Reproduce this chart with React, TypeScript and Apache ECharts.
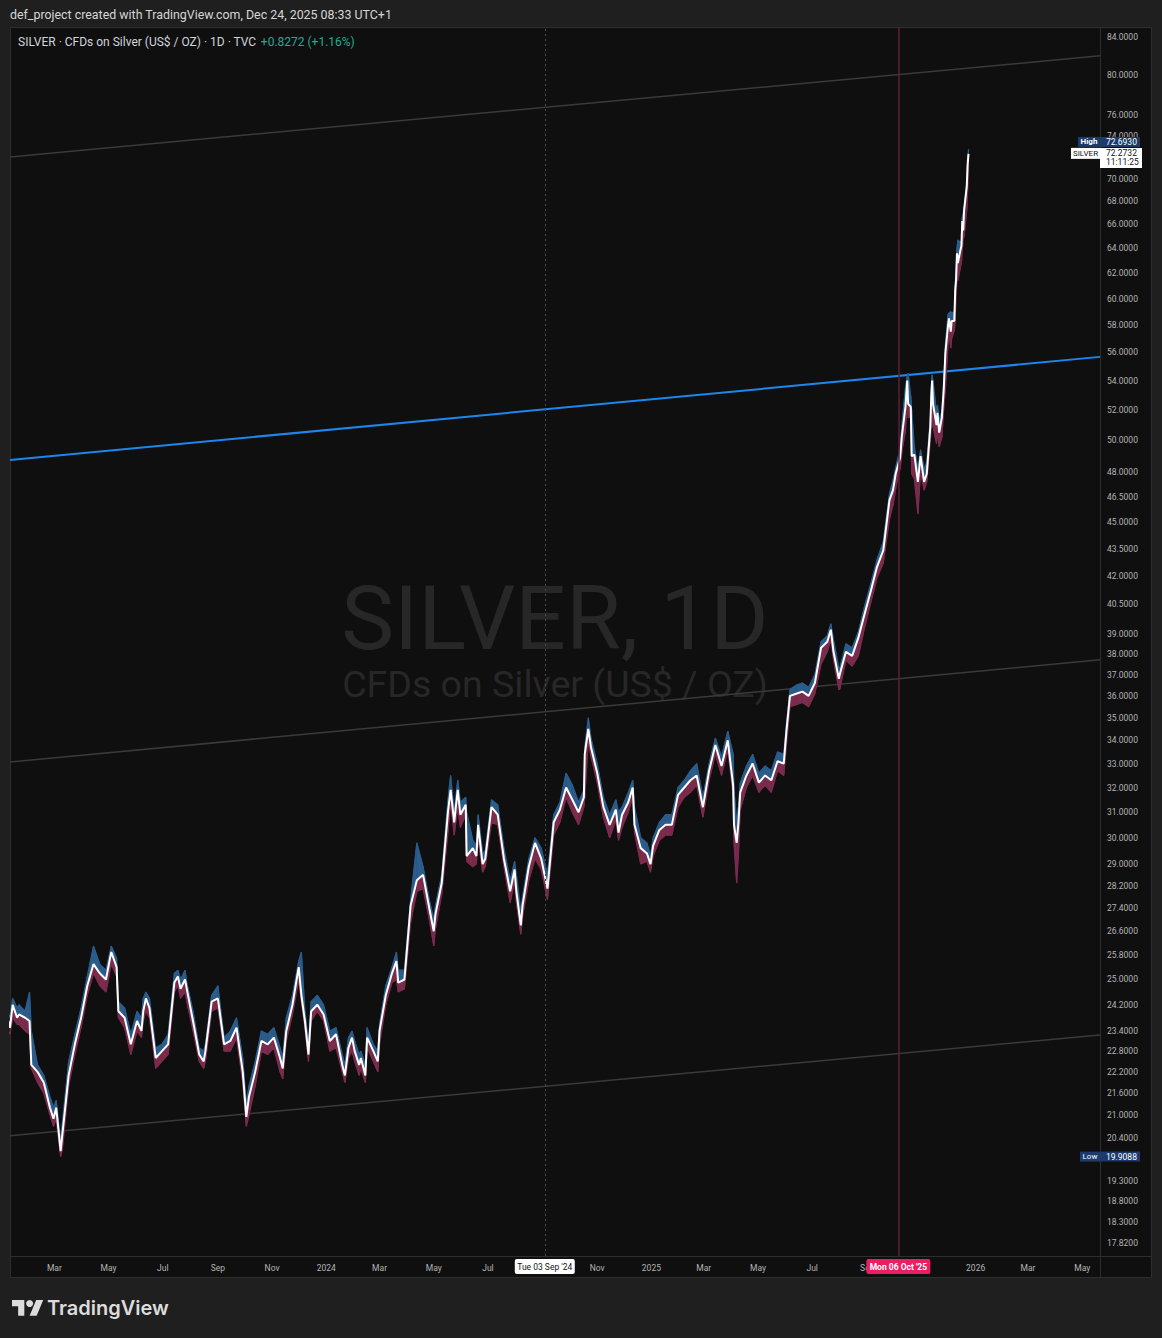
import React, { useEffect, useRef } from 'react';
import * as echarts from 'echarts';

const FONT = 'Roboto, "Liberation Sans", "DejaVu Sans", sans-serif';

// ---------------- DATA ----------------
// Weekly (mostly Friday) readings of the HLC chart
const dates = [
  '2023-01-06','2023-01-10','2023-01-13','2023-01-20','2023-01-27','2023-02-01','2023-02-03','2023-02-10','2023-02-17','2023-02-24',
  '2023-03-03','2023-03-08','2023-03-10','2023-03-17','2023-03-24','2023-03-31','2023-04-07','2023-04-14','2023-04-21','2023-04-28',
  '2023-05-04','2023-05-10','2023-05-12','2023-05-19','2023-05-26','2023-06-02','2023-06-09','2023-06-16','2023-06-23','2023-06-30',
  '2023-07-07','2023-07-14','2023-07-21','2023-07-28','2023-08-04','2023-08-11','2023-08-18','2023-08-25','2023-09-01','2023-09-08',
  '2023-09-15','2023-09-22','2023-09-29','2023-10-03','2023-10-06','2023-10-13','2023-10-20','2023-10-27','2023-11-03','2023-11-10',
  '2023-11-17','2023-11-24','2023-12-01','2023-12-04','2023-12-08','2023-12-12','2023-12-15','2023-12-22','2023-12-29',
  '2024-01-05','2024-01-12','2024-01-19','2024-01-22','2024-01-26','2024-02-02','2024-02-09','2024-02-14','2024-02-16','2024-02-23',
  '2024-02-28','2024-03-01','2024-03-08','2024-03-15','2024-03-20','2024-03-22','2024-03-29','2024-04-05','2024-04-12','2024-04-19',
  '2024-04-26','2024-05-03','2024-05-10','2024-05-17','2024-05-20','2024-05-24','2024-05-31','2024-06-06','2024-06-07','2024-06-14',
  '2024-06-20','2024-06-25','2024-06-28','2024-07-05','2024-07-12','2024-07-19','2024-07-26','2024-07-31','2024-08-02','2024-08-07',
  '2024-08-09','2024-08-16','2024-08-23','2024-08-30','2024-09-06','2024-09-13','2024-09-20','2024-09-27','2024-10-04','2024-10-11',
  '2024-10-17','2024-10-18','2024-10-22','2024-10-25','2024-11-01','2024-11-08','2024-11-15','2024-11-22','2024-11-29','2024-12-06',
  '2024-12-11','2024-12-13','2024-12-20','2024-12-27','2024-12-31',
  '2025-01-03','2025-01-10','2025-01-17','2025-01-24','2025-01-31','2025-02-07','2025-02-14','2025-02-21','2025-02-28','2025-03-07',
  '2025-03-14','2025-03-21','2025-03-28','2025-04-03','2025-04-04','2025-04-07','2025-04-09','2025-04-11','2025-04-18','2025-04-25',
  '2025-05-02','2025-05-09','2025-05-16','2025-05-23','2025-05-30','2025-06-02','2025-06-06','2025-06-13','2025-06-20','2025-06-27',
  '2025-07-04','2025-07-11','2025-07-18','2025-07-22','2025-07-25','2025-07-31','2025-08-01','2025-08-08','2025-08-15','2025-08-22',
  '2025-08-29','2025-09-05','2025-09-12','2025-09-19','2025-09-26','2025-09-30','2025-10-03','2025-10-06','2025-10-08','2025-10-10',
  '2025-10-14','2025-10-16','2025-10-17','2025-10-20','2025-10-21','2025-10-24','2025-10-28','2025-10-31','2025-11-04','2025-11-07',
  '2025-11-11','2025-11-12','2025-11-13','2025-11-14','2025-11-18','2025-11-19','2025-11-21','2025-11-24','2025-11-26','2025-11-28',
  '2025-12-01','2025-12-02','2025-12-04','2025-12-05','2025-12-08','2025-12-09','2025-12-10','2025-12-11','2025-12-12','2025-12-15',
  '2025-12-16','2025-12-17','2025-12-18','2025-12-19','2025-12-22','2025-12-23','2025-12-24',
];

const closes = [
  23.9,23.5,24.2,23.9,23.8,23.7,22.4,22.2,21.9,21.2,
  21.2,20.05,20.5,22.1,23.0,23.8,24.8,25.5,25.2,25.0,
  25.9,25.4,24.0,23.8,23.0,23.7,24.0,24.1,22.6,22.8,
  23.0,24.9,24.7,24.7,23.7,22.7,22.8,24.3,24.4,23.0,
  23.1,23.5,22.2,20.95,21.5,22.2,23.1,23.0,23.2,22.6,
  23.4,24.2,25.4,24.5,23.7,22.7,24.0,24.2,23.9,
  23.1,23.3,22.4,22.1,22.9,22.8,22.6,22.1,23.2,22.8,
  22.5,23.4,24.5,25.2,25.6,24.9,25.0,27.5,28.4,28.6,
  27.4,27.2,28.3,31.0,31.9,30.6,30.9,31.3,29.3,29.6,
  30.5,29.0,29.2,31.2,30.9,29.2,28.0,28.8,28.0,26.8,
  27.5,28.9,29.8,29.2,28.1,30.6,31.1,32.0,31.5,31.0,
  31.6,33.4,34.5,33.7,32.6,31.2,30.5,31.1,30.9,31.4,
  32.0,30.5,29.6,29.4,29.0,
  29.7,30.3,30.5,30.5,31.7,32.0,32.3,32.5,31.2,32.7,
  33.8,32.9,34.0,32.1,30.5,29.8,30.6,31.8,32.5,33.0,
  32.2,32.5,32.3,33.1,33.0,34.4,36.0,36.1,36.2,36.0,
  36.6,38.3,38.6,39.2,38.1,36.8,37.0,38.1,37.9,38.8,
  40.0,41.2,42.5,43.4,46.3,46.9,47.9,48.5,48.9,50.3,
  52.2,54.0,52.4,52.2,49.0,49.1,47.4,49.0,47.4,47.9,
  50.9,52.8,54.0,52.4,51.0,51.8,50.5,51.5,53.3,56.0,
  58.0,58.5,57.5,58.3,58.3,60.6,61.5,63.6,62.8,63.9,
  64.2,66.3,65.5,67.2,69.3,71.3,72.2732,
];

const highs = [
  24.1,23.8,24.4,24.2,24.0,24.6,23.4,22.4,22.1,21.5,
  21.4,20.3,20.8,22.5,23.3,24.1,25.1,26.1,25.5,25.3,
  26.1,25.7,24.3,24.1,23.3,24.0,24.4,24.4,22.9,23.0,
  23.3,25.2,25.0,24.9,24.0,22.9,23.0,24.5,24.8,23.2,
  23.4,23.8,22.6,21.3,21.8,22.5,23.4,23.3,23.5,22.9,
  23.8,24.5,25.6,25.9,24.0,23.0,24.3,24.5,24.2,
  23.4,23.5,22.7,22.4,23.2,23.1,22.8,22.4,23.5,23.0,
  22.8,23.6,24.8,25.4,25.9,25.3,25.3,27.7,29.8,28.9,
  27.7,27.5,28.6,31.5,32.5,31.0,31.4,31.6,31.0,29.9,
  30.9,29.4,29.5,31.5,31.3,29.6,28.4,29.1,28.6,27.3,
  27.8,29.2,30.0,29.6,28.6,30.9,31.4,32.6,32.1,31.4,
  31.9,33.7,35.0,34.1,33.0,31.6,30.9,31.5,31.2,31.8,
  32.3,31.2,30.0,29.8,29.3,
  30.0,30.6,30.9,30.9,32.0,32.3,32.7,33.0,31.6,33.0,
  34.1,33.3,34.4,33.4,31.9,30.6,31.2,32.2,32.9,33.4,
  32.6,32.9,32.7,33.5,33.4,34.7,36.3,36.5,36.6,36.4,
  37.0,38.6,38.9,39.5,38.7,37.3,37.3,38.5,38.3,39.1,
  40.4,41.6,42.9,43.9,46.7,47.5,48.3,49.0,49.4,51.0,
  53.5,54.3,54.5,52.9,52.0,49.6,48.2,49.4,48.2,48.6,
  51.4,53.4,54.4,54.0,51.8,52.3,51.3,51.9,53.7,56.6,
  58.8,58.9,59.0,58.9,59.0,61.0,62.0,64.0,64.7,64.5,
  64.6,66.6,66.9,67.5,69.6,71.6,72.693,
];

const lows = [
  23.5,23.3,23.8,23.6,23.4,23.3,22.3,21.9,21.6,21.0,
  20.9,19.9088,20.1,21.8,22.7,23.5,24.5,25.2,24.8,24.6,
  25.5,25.1,23.8,23.5,22.7,23.4,23.7,23.8,22.3,22.5,
  22.7,24.6,24.4,24.3,23.4,22.5,22.5,24.0,24.1,22.8,
  22.8,23.2,21.9,20.7,21.0,21.8,22.8,22.7,22.9,22.2,
  23.1,23.9,25.0,24.3,23.5,22.5,23.7,24.0,23.7,
  22.8,22.9,22.2,21.9,22.6,22.5,22.3,21.9,22.9,22.5,
  22.2,23.0,24.2,24.9,25.0,24.6,24.7,26.9,28.0,28.1,
  27.0,26.7,27.9,30.2,31.4,30.1,30.4,30.9,29.1,28.9,
  30.0,28.7,28.9,30.6,30.5,28.9,27.6,28.4,27.6,26.5,
  27.1,28.4,29.2,28.8,27.7,30.1,30.6,31.6,31.0,30.5,
  31.2,31.6,34.0,33.3,32.2,30.8,30.0,30.7,30.4,31.0,
  31.6,30.2,29.0,29.1,28.7,
  29.3,29.9,30.1,30.1,31.2,31.6,31.8,32.1,30.8,32.3,
  33.4,32.5,33.6,31.7,29.8,28.3,29.4,31.1,32.0,32.5,
  31.8,32.1,31.8,32.7,32.5,33.8,35.5,35.6,35.7,35.5,
  36.1,37.5,38.1,38.7,37.7,36.3,36.3,37.7,37.4,37.9,
  39.3,40.6,41.9,42.7,45.2,46.0,47.0,47.8,48.2,49.3,
  50.6,52.8,51.5,51.5,47.9,47.6,45.5,48.0,46.9,47.4,
  50.0,50.9,52.5,50.9,49.8,50.6,49.6,50.2,52.0,53.5,
  56.6,57.4,56.3,57.0,57.6,58.3,60.2,61.6,61.4,62.5,
  62.8,63.9,64.8,65.0,67.2,69.0,71.2,
];

// Extra mid-week readings where the line swings between the weekly points
const midDates = [
  '2023-01-18','2023-02-28','2023-06-07','2023-06-12','2023-07-18','2023-07-26','2023-08-16','2023-11-13',
  '2024-01-30','2024-02-07','2024-05-01','2024-05-28','2024-06-18','2024-11-25',
];
const midCloses = [23.8, 20.9, 23.4, 24.4, 25.1, 25.0, 22.5, 22.3, 23.2, 22.4, 26.6, 31.9, 29.3, 30.2];
const midHighs = [24.1, 21.2, 23.8, 24.6, 25.3, 25.3, 22.8, 22.6, 23.4, 22.7, 27.0, 32.3, 29.7, 31.0];
const midLows = [23.6, 20.7, 23.2, 24.0, 24.8, 24.6, 22.3, 22.0, 22.8, 22.1, 26.1, 31.2, 29.0, 29.9];

const priceTicks = [
  84, 80, 76, 74, 70, 68, 66, 64, 62, 60, 58, 56, 54, 52, 50, 48, 46.5, 45, 43.5, 42, 40.5,
  39, 38, 37, 36, 35, 34, 33, 32, 31, 30, 29, 28.2, 27.4, 26.6, 25.8, 25, 24.2, 23.4, 22.8,
  22.2, 21.6, 21, 20.4, 19.3, 18.8, 18.3, 17.82,
];

// (Sep 2024 sits under the crosshair date label, so it is not listed)
const timeTicks = [
  '2023-03-01','2023-05-01','2023-07-01','2023-09-01','2023-11-01','2024-01-01','2024-03-01','2024-05-01',
  '2024-07-01','2024-11-01','2025-01-01','2025-03-01','2025-05-01','2025-07-01','2025-09-01',
  '2026-01-01','2026-03-01','2026-05-01',
];
const monthNames = ['Jan','Feb','Mar','Apr','May','Jun','Jul','Aug','Sep','Oct','Nov','Dec'];

const xRange = ['2023-01-10', '2026-05-21'];
const yRange = [17.52, 85.08];

// drawn trend lines (value at left edge, value at right edge)
const trendDates = ['2023-01-10', '2026-05-21'];
const channelTop = [71.99, 81.98];
const channelMid = [33.07, 37.71];
const channelBottom = [20.45, 23.28];
const resistanceLine = [48.76, 55.67];

const crosshairDate = '2024-09-03';
const crosshairLabel = "Tue 03 Sep '24";
const markerDate = '2025-10-06';
const markerLabel = "Mon 06 Oct '25";

const symbolName = 'SILVER';
const legendTitle = 'SILVER · CFDs on Silver (US$ / OZ) · 1D · TVC';
const legendChange = '+0.8272 (+1.16%)';
const headerText = 'def_project created with TradingView.com, Dec 24, 2025 08:33 UTC+1';
const countdown = '11:11:25';

// ---------------- STYLE ----------------
const BLUE = '#2b5d8c';
const MAROON = '#7b2c4d';
const AXIS_TEXT = '#b4b4b4';
const NAVY = '#1c3a6b';

const ts = (s: string) => {
  const [y, m, d] = s.split('-').map(Number);
  return new Date(y, m - 1, d).getTime();
};

let logoRegistered = false;
function ensureLogo() {
  if (logoRegistered) return;
  echarts.graphic.registerShape(
    'tvLogo',
    echarts.graphic.extendPath('M14 22H7V11H0V4h14v18zM28 22h-8l7.5-18h8L28 22z', {}) as any
  );
  logoRegistered = true;
}

function buildRows() {
  const rows: { t: number; c: number; h: number; l: number }[] = [];
  const n = Math.min(dates.length, closes.length, highs.length, lows.length);
  for (let i = 0; i < n; i++) rows.push({ t: ts(dates[i]), c: closes[i], h: highs[i], l: lows[i] });
  const m = Math.min(midDates.length, midCloses.length, midHighs.length, midLows.length);
  for (let i = 0; i < m; i++) rows.push({ t: ts(midDates[i]), c: midCloses[i], h: midHighs[i], l: midLows[i] });
  rows.sort((a, b) => a.t - b.t);
  return rows;
}

function buildOption() {
  const rows = buildRows();
  const closeData = rows.map((r) => [r.t, r.c]);
  const highData = rows.map((r) => [r.t, r.h]);
  const lowData = rows.map((r) => [r.t, r.l]);
  const segData = rows.slice(0, -1).map((r, i) => {
    const s = rows[i + 1];
    return [r.t, r.c, r.h, r.l, s.t, s.c, s.h, s.l];
  });
  const trend = (vals: number[]) => [
    [ts(trendDates[0]), vals[0]],
    [ts(trendDates[1]), vals[1]],
  ];
  const base = { type: 'line', symbol: 'none', silent: true, animation: false, smooth: false };

  return {
    animation: false,
    backgroundColor: '#1f1f1f',
    grid: { left: 10, top: 27, width: 1090, height: 1229, containLabel: false },
    xAxis: {
      type: 'value',
      min: ts(xRange[0]),
      max: ts(xRange[1]),
      scale: true,
      axisLine: { show: false },
      axisTick: { show: false },
      splitLine: { show: false },
      axisLabel: {
        customValues: timeTicks.map(ts),
        formatter: (v: number) => {
          const d = new Date(v);
          return d.getMonth() === 0 ? String(d.getFullYear()) : monthNames[d.getMonth()];
        },
        color: AXIS_TEXT,
        fontSize: 8.5,
        fontFamily: FONT,
        margin: 7,
        hideOverlap: false,
      },
    },
    yAxis: {
      type: 'log',
      logBase: 10,
      min: yRange[0],
      max: yRange[1],
      position: 'right',
      axisLine: { show: false },
      axisTick: { show: false },
      splitLine: { show: false },
      axisLabel: {
        customValues: priceTicks,
        formatter: (v: number) => Number(v).toFixed(4),
        color: AXIS_TEXT,
        fontSize: 8.5,
        fontFamily: FONT,
        margin: 7,
        align: 'left',
        hideOverlap: false,
      },
    },
    series: [
      {
        ...base,
        name: 'Channel top',
        data: trend(channelTop),
        lineStyle: { color: '#3a3a3a', width: 1.5 },
        z: 1,
        markLine: {
          silent: true,
          animation: false,
          symbol: ['none', 'none'],
          label: { show: false },
          data: [
            { xAxis: ts(crosshairDate), lineStyle: { color: '#4a4a4a', width: 1, type: [2, 3] } },
            { xAxis: ts(markerDate), lineStyle: { color: '#5e1f38', width: 1.5, type: 'solid' } },
          ],
        },
      },
      { ...base, name: 'Channel mid', data: trend(channelMid), lineStyle: { color: '#3a3a3a', width: 1.5 }, z: 1 },
      { ...base, name: 'Channel bottom', data: trend(channelBottom), lineStyle: { color: '#3a3a3a', width: 1.5 }, z: 1 },
      { ...base, name: 'Resistance', data: trend(resistanceLine), lineStyle: { color: '#1c86ee', width: 2 }, z: 1 },
      {
        type: 'custom',
        name: 'HLC bands',
        silent: true,
        clip: true,
        z: 2,
        data: segData,
        encode: { x: [0, 4], y: [1, 2, 3, 5, 6, 7] },
        renderItem: (_params: any, api: any) => {
          const x0 = api.value(0), c0 = api.value(1), h0 = api.value(2), l0 = api.value(3);
          const x1 = api.value(4), c1 = api.value(5), h1 = api.value(6), l1 = api.value(7);
          const pc0 = api.coord([x0, c0]);
          const ph0 = api.coord([x0, h0]);
          const pl0 = api.coord([x0, l0]);
          const pc1 = api.coord([x1, c1]);
          const ph1 = api.coord([x1, h1]);
          const pl1 = api.coord([x1, l1]);
          return {
            type: 'group',
            children: [
              {
                type: 'polygon',
                shape: { points: [ph0, ph1, pc1, pc0] },
                style: { fill: BLUE, stroke: BLUE, lineWidth: 0.6 },
              },
              {
                type: 'polygon',
                shape: { points: [pc0, pc1, pl1, pl0] },
                style: { fill: MAROON, stroke: MAROON, lineWidth: 0.6 },
              },
            ],
          };
        },
      },
      { ...base, name: 'High', data: highData, lineStyle: { color: BLUE, width: 1.2 }, z: 3 },
      { ...base, name: 'Low', data: lowData, lineStyle: { color: MAROON, width: 1.2 }, z: 3 },
      { ...base, name: 'Close', data: closeData, lineStyle: { color: '#ffffff', width: 2 }, z: 4 },
    ],
  };
}

function txt(x: number, y: number, text: string, opts: any = {}) {
  return {
    type: 'text',
    x,
    y,
    z: opts.z ?? 50,
    silent: true,
    style: {
      text,
      fill: opts.fill ?? '#d1d4dc',
      fontSize: opts.fontSize ?? 9,
      fontFamily: opts.fontFamily ?? FONT,
      fontWeight: opts.fontWeight ?? 'normal',
      lineHeight: opts.lineHeight,
      align: opts.align ?? 'left',
      verticalAlign: 'middle',
      textAlign: opts.align ?? 'left',
      textVerticalAlign: 'middle',
      rich: opts.rich,
    },
  };
}

function rect(x: number, y: number, w: number, h: number, fill: string, z = 40, extra: any = {}) {
  return { type: 'rect', z, silent: true, shape: { x, y, width: w, height: h, r: extra.r ?? 0 }, style: { fill, stroke: extra.stroke, lineWidth: extra.lineWidth ?? 0 } };
}

function buildGraphic(chart: any) {
  const px = (d: string) => chart.convertToPixel({ xAxisIndex: 0 }, ts(d)) as number;
  const py = (v: number) => chart.convertToPixel({ yAxisIndex: 0 }, v) as number;
  const lastClose = closes[closes.length - 1];
  const highValue = Math.max(...highs, ...midHighs);
  const lowValue = Math.min(...lows, ...midLows);
  const xCross = px(crosshairDate);
  const xMark = px(markerDate);
  const yClose = py(lastClose);
  const yLow = py(lowValue);

  const els: any[] = [];
  // chart panel
  els.push(rect(10.5, 27.5, 1141, 1250, '#0f0f0f', -10, { stroke: '#2e2e2e', lineWidth: 1 }));
  els.push({ type: 'line', z: -9, silent: true, shape: { x1: 1100.5, y1: 27, x2: 1100.5, y2: 1277 }, style: { stroke: '#2e2e2e', lineWidth: 1 } });
  els.push({ type: 'line', z: -9, silent: true, shape: { x1: 10, y1: 1256.5, x2: 1151, y2: 1256.5 }, style: { stroke: '#2e2e2e', lineWidth: 1 } });

  // watermark
  els.push(txt(555, 618, 'SILVER, 1D', { fill: '#272727', fontSize: 89, lineHeight: 80, align: 'center', z: -5 }));
  els.push(txt(555, 684, 'CFDs on Silver (US$ / OZ)', { fill: '#272727', fontSize: 37.5, lineHeight: 36, align: 'center', z: -5 }));

  // header + legend
  els.push(txt(10, 14, headerText, { fill: '#d6d6d6', fontSize: 12.4 }));
  els.push(
    txt(18, 42, `{a|${legendTitle}}  {b|${legendChange}}`, {
      rich: {
        a: { fill: '#d1d4dc', fontSize: 12, fontFamily: FONT },
        b: { fill: '#22ab94', fontSize: 12, fontFamily: FONT },
      },
    })
  );

  // time crosshair labels
  els.push(rect(xCross - 30, 1259, 60, 15, '#ffffff', 60, { r: 2 }));
  els.push(txt(xCross, 1266.5, crosshairLabel, { fill: '#131313', fontSize: 8.5, align: 'center', z: 61 }));
  els.push(rect(xMark - 32, 1259, 64, 15, '#e91e63', 60, { r: 2 }));
  els.push(txt(xMark, 1266.5, markerLabel, { fill: '#ffffff', fontSize: 8.5, align: 'center', z: 61, fontWeight: 'bold' }));

  // price badges
  const closeTop = yClose - 6;
  const highTop = closeTop - 11;
  els.push(rect(1078, highTop, 22, 10, NAVY, 60));
  els.push(txt(1089, highTop + 5, 'High', { fill: '#ffffff', fontSize: 8, align: 'center', z: 61, fontWeight: 'bold' }));
  els.push(rect(1100, highTop, 40, 10, NAVY, 60));
  els.push(txt(1106, highTop + 5, highValue.toFixed(4), { fill: '#ffffff', fontSize: 8.5, z: 61 }));

  els.push(rect(1071, closeTop, 29, 11, '#ffffff', 60));
  els.push(txt(1085.5, closeTop + 5.5, symbolName, { fill: '#131313', fontSize: 8, align: 'center', z: 61 }));
  els.push(rect(1100, closeTop, 42, 20, '#ffffff', 60));
  els.push(txt(1106, closeTop + 5.5, lastClose.toFixed(4), { fill: '#131313', fontSize: 8.5, z: 61 }));
  els.push(txt(1106, closeTop + 14.5, countdown, { fill: '#131313', fontSize: 8.5, z: 61 }));

  els.push(rect(1080, yLow - 5, 20, 10, NAVY, 60));
  els.push(txt(1090, yLow, 'Low', { fill: '#ffffff', fontSize: 8, align: 'center', z: 61 }));
  els.push(rect(1100, yLow - 5, 40, 10, NAVY, 60));
  els.push(txt(1106, yLow, lowValue.toFixed(4), { fill: '#ffffff', fontSize: 8.5, z: 61 }));

  // TradingView logo
  els.push({ type: 'tvLogo', x: 12, y: 1296.5, scaleX: 0.88, scaleY: 0.88, z: 50, silent: true, style: { fill: '#dcdcdc' } });
  els.push({ type: 'circle', z: 50, silent: true, shape: { cx: 12 + 20 * 0.88, cy: 1296.5 + 8 * 0.88, r: 3.5 }, style: { fill: '#dcdcdc' } });
  els.push(txt(47, 1308, 'TradingView', { fill: '#dcdcdc', fontSize: 20, fontFamily: 'Inter, Roboto, sans-serif', fontWeight: 600 }));

  return els;
}

export default function App() {
  const ref = useRef<HTMLDivElement>(null);
  useEffect(() => {
    if (!ref.current) return;
    ensureLogo();
    const chart = echarts.init(ref.current, undefined, { renderer: 'svg' });
    chart.setOption(buildOption() as any);
    chart.setOption({ graphic: { elements: buildGraphic(chart) } } as any);
    return () => {
      chart.dispose();
    };
  }, []);
  return (
    <div
      ref={ref}
      style={{ position: 'absolute', left: 0, top: 0, width: 1162, height: 1338 }}
    />
  );
}
